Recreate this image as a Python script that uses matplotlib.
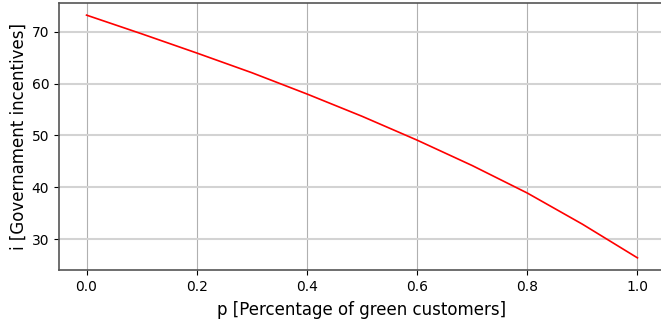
import numpy as np
import matplotlib.pyplot as plt

# values
p = [0.0, 0.1, 0.2, 0.3, 0.4, 0.5, 0.6, 0.7, 0.8, 0.9, 1.0]
i_gov = [73.2, 69.6, 65.9, 62.1, 58.0, 53.7, 49.1, 44.2, 38.9, 32.9, 26.4]

xticks = [0.0, 0.2, 0.4, 0.6, 0.8, 1.0]
yticks = [30, 40, 50, 60, 70]


def main():
    fig = plt.figure(figsize=(6.61, 3.29), dpi=100)
    # axes run slightly past the right edge, like the cropped original
    ax = fig.add_axes([59 / 661, 59 / 329, 606 / 661, 267 / 329])

    ax.plot(p, i_gov, color='red', linewidth=1.2)

    ax.set_xticks(xticks)
    ax.set_yticks(yticks)
    ax.tick_params(labelsize=10)
    ax.xaxis.grid(True, color='#b0b0b0', linewidth=0.8)
    ax.yaxis.grid(True, color='#d3d3d3', linewidth=1.5)
    ax.set_axisbelow(True)

    for s in ax.spines.values():
        s.set_color('#555555')
        s.set_linewidth(1.2)
    ax.spines['right'].set_visible(False)

    ax.set_xlabel('p [Percentage of green customers]', fontsize=12, labelpad=5)
    ax.set_ylabel('i [Governament incentives]', fontsize=12, labelpad=3)

    fig.savefig('out.png', dpi=100)


if __name__ == '__main__':
    main()
